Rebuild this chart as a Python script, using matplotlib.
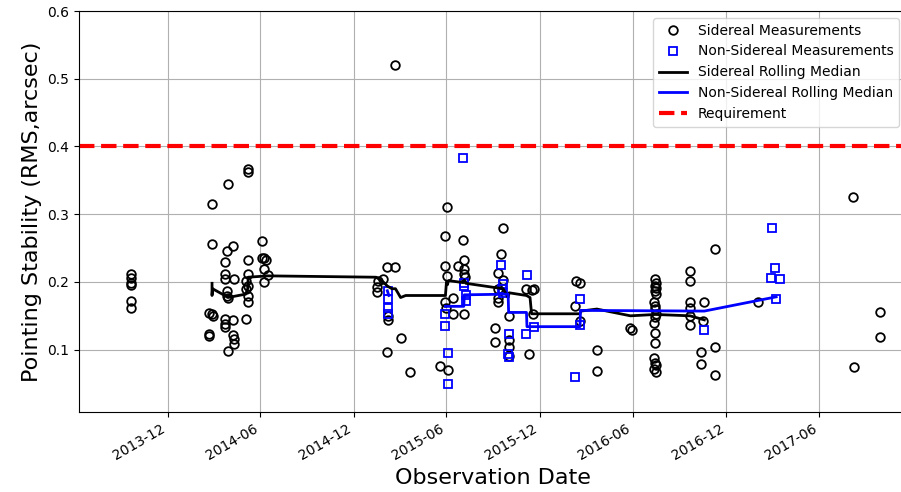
#!/usr/bin/env python
# -*- coding: utf-8 -*-
"""Pointing stability versus observation date."""

import matplotlib
matplotlib.use("Agg")
import matplotlib.pyplot as pyplot
import matplotlib.dates as mdates
import pandas

## Data

sidereal_dates = [
    "2013-09-20", "2013-09-20", "2013-09-20", "2013-09-20", "2013-09-20", "2013-09-20",
    "2014-02-20", "2014-02-20", "2014-02-21", "2014-02-26", "2014-02-26", "2014-02-26", "2014-02-28",
    "2014-03-23", "2014-03-23", "2014-03-23", "2014-03-23", "2014-03-23", "2014-03-23",
    "2014-03-27", "2014-03-27", "2014-03-28", "2014-03-29", "2014-03-29", "2014-03-29",
    "2014-04-09", "2014-04-09", "2014-04-09", "2014-04-11", "2014-04-11", "2014-04-11",
    "2014-05-03", "2014-05-03", "2014-05-04", "2014-05-07", "2014-05-07", "2014-05-07", "2014-05-07",
    "2014-05-08", "2014-05-08", "2014-05-08", "2014-06-05", "2014-06-05",
    "2014-06-08", "2014-06-08", "2014-06-08", "2014-06-12", "2014-06-15",
    "2015-01-15", "2015-01-15", "2015-01-18", "2015-01-28", "2015-02-05", "2015-02-05",
    "2015-02-07", "2015-02-07", "2015-02-21", "2015-02-21", "2015-03-03", "2015-03-21",
    "2015-05-19", "2015-05-30", "2015-05-30", "2015-05-30", "2015-06-01", "2015-06-03", "2015-06-03",
    "2015-06-05", "2015-06-14", "2015-06-14", "2015-06-23", "2015-07-04",
    "2015-07-06", "2015-07-06", "2015-07-06", "2015-07-06", "2015-07-07",
    "2015-09-04", "2015-09-04", "2015-09-11", "2015-09-11", "2015-09-11", "2015-09-11",
    "2015-09-17", "2015-09-19", "2015-09-20", "2015-10-01", "2015-10-01", "2015-10-01", "2015-10-01",
    "2015-11-05", "2015-11-10", "2015-11-15", "2015-11-18", "2015-11-20",
    "2016-02-09", "2016-02-10", "2016-02-18", "2016-02-18", "2016-03-22", "2016-03-22",
    "2016-05-27", "2016-05-30",
    "2016-07-14", "2016-07-16", "2016-07-14", "2016-07-17", "2016-07-15", "2016-07-16",
    "2016-07-12", "2016-07-14", "2016-07-15", "2016-07-16", "2016-07-14", "2016-07-13",
    "2016-07-14", "2016-07-15", "2016-07-12", "2016-07-14", "2016-07-16", "2016-07-13", "2016-07-16",
    "2016-09-21", "2016-09-21", "2016-09-21", "2016-09-20", "2016-09-20", "2016-09-21",
    "2016-10-12", "2016-10-12", "2016-10-17", "2016-10-19",
    "2016-11-09", "2016-11-09", "2016-11-09",
    "2017-02-02", "2017-08-06", "2017-08-08", "2017-09-29", "2017-09-29",
]
sidereal_rms = [
    0.212, 0.206, 0.199, 0.196, 0.172, 0.162,
    0.154, 0.123, 0.120, 0.315, 0.256, 0.152, 0.150,
    0.229, 0.212, 0.205, 0.145, 0.138, 0.133,
    0.246, 0.187, 0.179, 0.344, 0.177, 0.098,
    0.253, 0.144, 0.121, 0.204, 0.116, 0.108,
    0.201, 0.146, 0.189, 0.233, 0.212, 0.179, 0.170,
    0.367, 0.363, 0.194, 0.261, 0.235,
    0.236, 0.219, 0.200, 0.233, 0.210,
    0.192, 0.185, 0.201, 0.205, 0.222, 0.097,
    0.150, 0.144, 0.222, 0.521, 0.117, 0.067,
    0.0755, 0.268, 0.223, 0.170, 0.162, 0.310, 0.209,
    0.070, 0.177, 0.153, 0.223, 0.262,
    0.232, 0.219, 0.212, 0.152, 0.207,
    0.132, 0.111, 0.213, 0.189, 0.177, 0.170,
    0.241, 0.2795, 0.203, 0.150, 0.115, 0.104, 0.090,
    0.189, 0.094, 0.188, 0.153, 0.189,
    0.165, 0.2015, 0.199, 0.143, 0.100, 0.0687,
    0.132, 0.129,
    0.204, 0.199, 0.194, 0.191, 0.187, 0.182,
    0.170, 0.165, 0.160, 0.153, 0.148, 0.139,
    0.124, 0.110, 0.087, 0.080, 0.077, 0.072, 0.067,
    0.216, 0.201, 0.170, 0.162, 0.150, 0.136,
    0.0965, 0.0795, 0.142, 0.170,
    0.248, 0.104, 0.063,
    0.171, 0.325, 0.0745, 0.155, 0.118,
]

nonsidereal_dates = [
    "2015-02-06", "2015-02-06", "2015-02-06", "2015-02-06",
    "2015-05-30", "2015-05-30", "2015-06-05", "2015-06-05", "2015-07-04",
    "2015-07-06", "2015-07-06", "2015-07-09", "2015-07-09",
    "2015-09-17", "2015-09-20", "2015-09-18", "2015-09-19",
    "2015-10-02", "2015-09-30", "2015-10-02",
    "2015-11-06", "2015-11-20", "2015-11-05",
    "2016-02-18", "2016-02-18", "2016-02-09",
    "2016-10-19",
    "2017-02-28", "2017-03-07", "2017-02-27", "2017-03-17", "2017-03-09",
]
nonsidereal_rms = [
    0.187, 0.175, 0.162, 0.153,
    0.153, 0.135, 0.0956, 0.050, 0.383,
    0.199, 0.194, 0.180, 0.172,
    0.225, 0.197, 0.190, 0.183,
    0.123, 0.093, 0.089,
    0.210, 0.134, 0.123,
    0.1755, 0.137, 0.059,
    0.129,
    0.2795, 0.221, 0.206, 0.205, 0.1747,
]

sidereal_median_dates = [
    "2014-02-26", "2014-02-26", "2014-02-27", "2014-03-23", "2014-03-29", "2014-05-03",
    "2014-05-07", "2014-05-08", "2014-06-15", "2015-01-14", "2015-01-28", "2015-02-05",
    "2015-02-14", "2015-02-21", "2015-03-03", "2015-03-13", "2015-05-30", "2015-06-01",
    "2015-06-03", "2015-06-05", "2015-07-04", "2015-07-06", "2015-07-09", "2015-09-11",
    "2015-09-20", "2015-09-30", "2015-10-02", "2015-11-05", "2015-11-12", "2015-11-15",
    "2016-02-18", "2016-02-20", "2016-03-22", "2016-05-27", "2016-07-15", "2016-09-21",
    "2016-10-19",
]
sidereal_median_rms = [
    0.198, 0.180, 0.190, 0.180, 0.177, 0.182,
    0.190, 0.207, 0.209, 0.207, 0.200, 0.194,
    0.190, 0.190, 0.177, 0.180, 0.180, 0.200,
    0.196, 0.202, 0.199, 0.203, 0.198, 0.191,
    0.190, 0.177, 0.184, 0.180, 0.177, 0.153,
    0.153, 0.157, 0.160, 0.150, 0.152, 0.150,
    0.144,
]

# NaN marks the break between the Feb 2015 stub and the rest of the line
nonsidereal_median_dates = [
    "2015-02-05", "2015-02-08", "2015-03-01", "2015-05-30", "2015-07-05", "2015-07-06",
    "2015-09-30", "2015-10-01", "2015-11-05", "2015-11-06", "2016-02-18", "2016-02-19",
    "2016-10-19", "2017-03-09",
]
nonsidereal_median_rms = [
    0.187, 0.180, float("nan"), 0.164, 0.164, 0.181,
    0.182, 0.155, 0.155, 0.134, 0.134, 0.158,
    0.157, 0.178,
]

REQUIREMENT = 0.4

## Config

X_IN = 9.01
Y_IN = 4.92
X_LIMITS = ("2013-06-10", "2017-11-19")
Y_LIMITS = (0.008, 0.6)

## Plot

fig = pyplot.figure(figsize=(X_IN, Y_IN), dpi=100)
ax = fig.add_axes([0.0877, 0.1626, 0.918, 0.815])

ax.plot(pandas.to_datetime(sidereal_dates), sidereal_rms, linestyle="none", marker="o",
        markersize=6.2, markerfacecolor="none", markeredgecolor="black", markeredgewidth=1.3,
        label="Sidereal Measurements", zorder=3)
ax.plot(pandas.to_datetime(nonsidereal_dates), nonsidereal_rms, linestyle="none", marker="s",
        markersize=5.8, markerfacecolor="none", markeredgecolor="blue", markeredgewidth=1.3,
        label="Non-Sidereal Measurements", zorder=3)
ax.plot(pandas.to_datetime(sidereal_median_dates), sidereal_median_rms, color="black",
        linewidth=2, label="Sidereal Rolling Median", zorder=4)
ax.plot(pandas.to_datetime(nonsidereal_median_dates), nonsidereal_median_rms, color="blue",
        linewidth=2, label="Non-Sidereal Rolling Median", zorder=4)
ax.axhline(y=REQUIREMENT, color="red", linestyle="--", linewidth=3, label="Requirement", zorder=2)

ax.set_xlim(pandas.to_datetime(X_LIMITS))
ax.set_ylim(Y_LIMITS)
ax.xaxis.set_major_locator(mdates.MonthLocator(bymonth=[6, 12]))
ax.xaxis.set_major_formatter(mdates.DateFormatter("%Y-%m"))
for label in ax.get_xticklabels():
    label.set_rotation(30)
    label.set_horizontalalignment("right")

ax.grid(True, zorder=0)
ax.set_axisbelow(True)
ax.set_xlabel("Observation Date", fontsize=16)
ax.set_ylabel("Pointing Stability (RMS,arcsec)", fontsize=16)

ax.legend(loc="upper right", numpoints=1, fontsize=10)

fig.savefig("out.png", dpi=100)
